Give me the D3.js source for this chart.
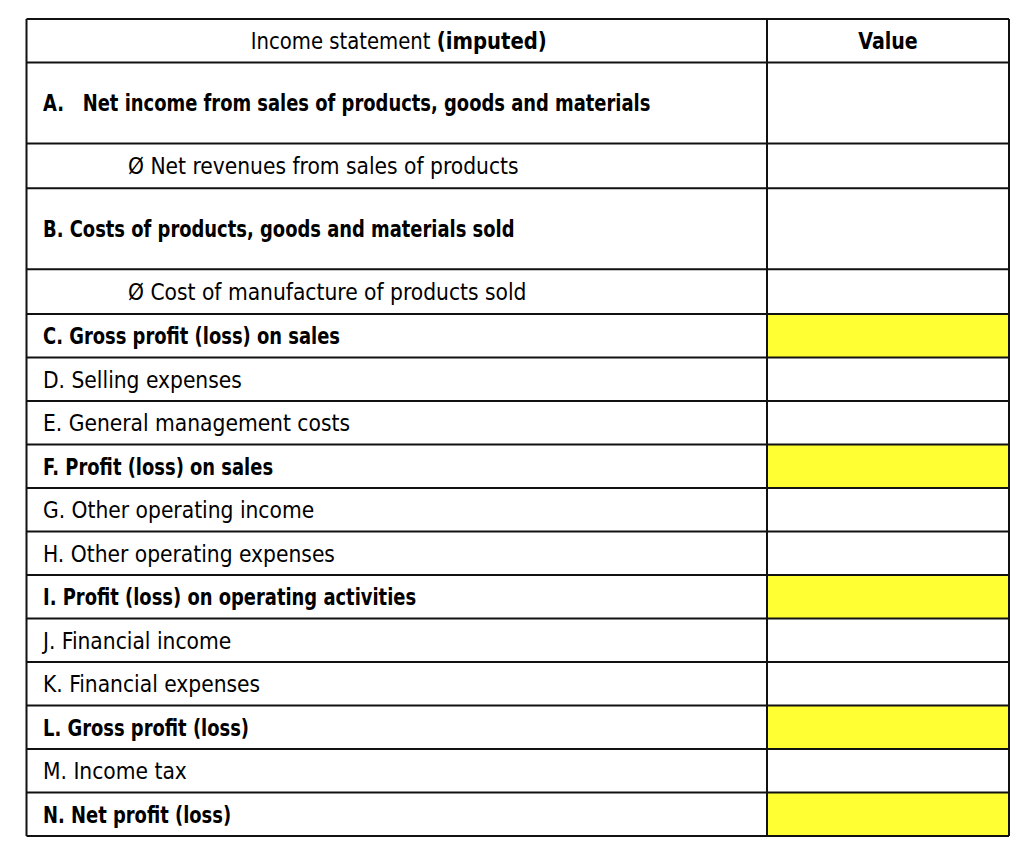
<!DOCTYPE html>
<html>
<head>
<meta charset="utf-8">
<script src="https://cdn.jsdelivr.net/npm/d3@7"></script>
<style>
  body { margin: 0; background: #fff; }
  svg text { font-family: "Liberation Sans Narrow", "DejaVu Sans Condensed", sans-serif; fill: #000; }
</style>
</head>
<body>
<div id="chart"></div>
<script>
// table contents
const headers = ['Income statement', 'Value'];
const headerNote = '(imputed)';
const labels = [
  'A.   Net income from sales of products, goods and materials',
  'Ø Net revenues from sales of products',
  'B. Costs of products, goods and materials sold',
  'Ø Cost of manufacture of products sold',
  'C. Gross profit (loss) on sales',
  'D. Selling expenses',
  'E. General management costs',
  'F. Profit (loss) on sales',
  'G. Other operating income',
  'H. Other operating expenses',
  'I. Profit (loss) on operating activities',
  'J. Financial income',
  'K. Financial expenses',
  'L. Gross profit (loss)',
  'M. Income tax',
  'N. Net profit (loss)'
];
const boldRows = ['A', 'B', 'C', 'F', 'I', 'L', 'N'];
const subRows = [1, 3];          // indented "Ø" lines
const tallRows = [0, 2];         // double height rows
const highlightRows = ['C', 'F', 'I', 'L', 'N'];

const width = 1024, height = 854;
const svg = d3.select('#chart').append('svg')
  .attr('width', width).attr('height', height);

// row heights in units, header is one unit
const units = [1].concat(labels.map((d, i) => tallRows.includes(i) ? 1.86 : (subRows.includes(i) ? 1.03 : 1)));
const cum = d3.cumsum(units);
const yScale = d3.scaleLinear().domain([0, cum[cum.length - 1]]).range([19, 836]);
const xScale = d3.scaleOrdinal().domain(['left', 'mid', 'right']).range([26.5, 767, 1009]);

const rows = [{ label: null, header: true }].concat(labels.map((d, i) => ({
  label: d,
  key: d.trim()[0],
  index: i
})));
rows.forEach((r, i) => { r.y0 = yScale(i === 0 ? 0 : cum[i - 1]); r.y1 = yScale(cum[i]); });

const isBold = d => !subRows.includes(d.index) && boldRows.includes(d.key);

// yellow value cells
svg.append('g').selectAll('rect')
  .data(rows.filter(r => !r.header && highlightRows.includes(r.key) && !subRows.includes(r.index)))
  .join('rect')
  .attr('x', xScale('mid'))
  .attr('y', d => d.y0)
  .attr('width', xScale('right') - xScale('mid'))
  .attr('height', d => d.y1 - d.y0)
  .attr('fill', '#ffff33');

// labels (the condensed face is squeezed a bit more to fit the narrow original)
const fs = 23.5;
const lab = svg.append('g');
const hy = (rows[0].y0 + rows[0].y1) / 2;
const hdr = lab.append('text')
  .attr('transform', `translate(${(xScale('left') + xScale('mid')) / 2 + 2},${hy}) scale(0.93,1)`)
  .attr('dy', '0.36em')
  .attr('text-anchor', 'middle')
  .attr('font-size', fs);
hdr.append('tspan').text(headers[0] + ' ');
hdr.append('tspan').attr('font-weight', 'bold').text(headerNote);

lab.append('text')
  .attr('transform', `translate(${(xScale('mid') + xScale('right')) / 2},${hy}) scale(0.9,1)`)
  .attr('dy', '0.36em')
  .attr('text-anchor', 'middle')
  .attr('font-weight', 'bold')
  .attr('font-size', fs)
  .text(headers[1]);

lab.selectAll('text.row')
  .data(rows.filter(r => !r.header))
  .join('text')
  .attr('class', 'row')
  .attr('transform', d => `translate(${subRows.includes(d.index) ? 128 : 43},${(d.y0 + d.y1) / 2}) scale(${isBold(d) ? 0.848 : 0.96},1)`)
  .attr('dy', '0.36em')
  .attr('font-size', fs)
  .attr('font-weight', d => isBold(d) ? 'bold' : 'normal')
  .attr('xml:space', 'preserve')
  .style('white-space', 'pre')
  .text(d => d.label);

// grid lines
const grid = svg.append('g').attr('stroke', '#111').attr('stroke-width', 2);
grid.selectAll('line.h')
  .data(rows.map(r => r.y0).concat([rows[rows.length - 1].y1]))
  .join('line')
  .attr('class', 'h')
  .attr('x1', xScale('left')).attr('x2', xScale('right'))
  .attr('y1', d => d).attr('y2', d => d);
grid.selectAll('line.v')
  .data(xScale.range())
  .join('line')
  .attr('class', 'v')
  .attr('x1', d => d).attr('x2', d => d)
  .attr('y1', yScale(0)).attr('y2', rows[rows.length - 1].y1);
</script>
</body>
</html>
